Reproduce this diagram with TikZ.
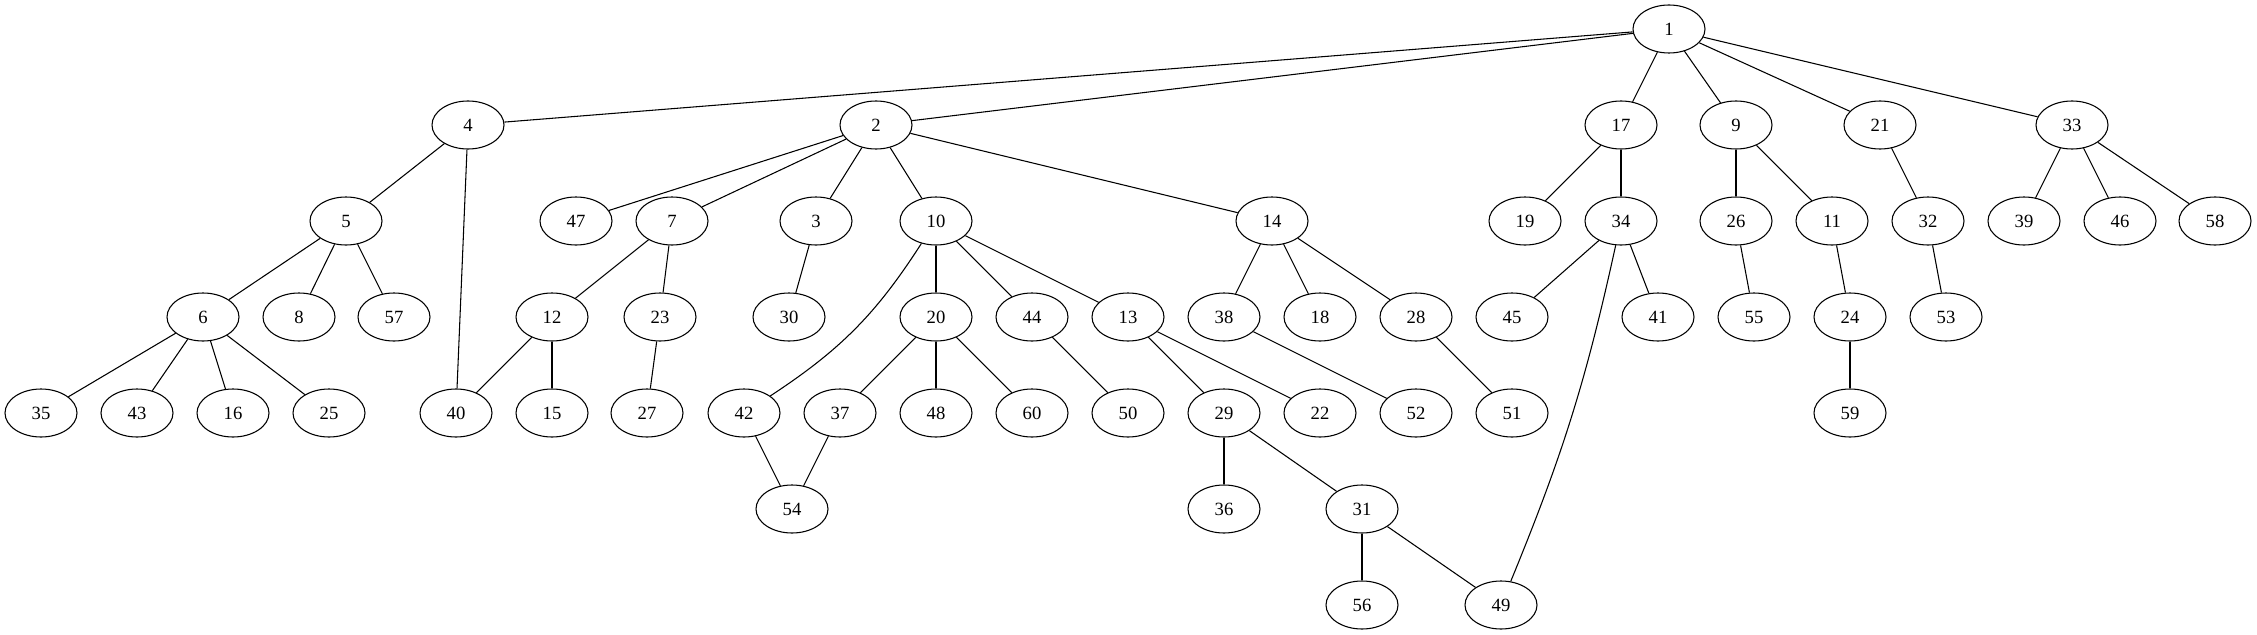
\documentclass[tikz,border=0pt]{standalone}
\usepackage{fontspec}
\setmainfont{Liberation Serif}
\usetikzlibrary{shapes.geometric}

\begin{document}
\begin{tikzpicture}[x=0.75pt, y=-0.75pt,
    vertex/.style={ellipse, draw, line width=0.8pt, minimum width=54pt,
      minimum height=36pt, inner sep=0pt, font=\fontsize{14}{16}\selectfont}]
  \useasboundingbox (0,0) rectangle (2257,635);

  % level 0 and 1
  \node (n1) [vertex] at (1669,29) {1};
  \node (n4) [vertex] at (468,125) {4};
  \node (n2) [vertex] at (876,125) {2};
  \node (n17) [vertex] at (1621,125) {17};
  \node (n9) [vertex] at (1736,125) {9};
  \node (n21) [vertex] at (1880,125) {21};
  \node (n33) [vertex] at (2072,125) {33};

  % level 2
  \node (n5) [vertex] at (346,221) {5};
  \node (n47) [vertex] at (576,221) {47};
  \node (n7) [vertex] at (672,221) {7};
  \node (n3) [vertex] at (816,221) {3};
  \node (n10) [vertex] at (936,221) {10};
  \node (n14) [vertex] at (1272,221) {14};
  \node (n19) [vertex] at (1525,221) {19};
  \node (n34) [vertex] at (1621,221) {34};
  \node (n26) [vertex] at (1736,221) {26};
  \node (n11) [vertex] at (1832,221) {11};
  \node (n32) [vertex] at (1928,221) {32};
  \node (n39) [vertex] at (2024,221) {39};
  \node (n46) [vertex] at (2120,221) {46};
  \node (n58) [vertex] at (2215,221) {58};

  % level 3
  \node (n6) [vertex] at (203,317) {6};
  \node (n8) [vertex] at (299,317) {8};
  \node (n57) [vertex] at (394,317) {57};
  \node (n12) [vertex] at (552,317) {12};
  \node (n23) [vertex] at (660,317) {23};
  \node (n30) [vertex] at (789,317) {30};
  \node (n20) [vertex] at (936,317) {20};
  \node (n44) [vertex] at (1032,317) {44};
  \node (n13) [vertex] at (1128,317) {13};
  \node (n38) [vertex] at (1224,317) {38};
  \node (n18) [vertex] at (1320,317) {18};
  \node (n28) [vertex] at (1416,317) {28};
  \node (n45) [vertex] at (1512,317) {45};
  \node (n41) [vertex] at (1658,317) {41};
  \node (n55) [vertex] at (1754,317) {55};
  \node (n24) [vertex] at (1850,317) {24};
  \node (n53) [vertex] at (1946,317) {53};

  % level 4
  \node (n35) [vertex] at (41,413) {35};
  \node (n43) [vertex] at (137,413) {43};
  \node (n16) [vertex] at (233,413) {16};
  \node (n25) [vertex] at (329,413) {25};
  \node (n40) [vertex] at (456,413) {40};
  \node (n15) [vertex] at (552,413) {15};
  \node (n27) [vertex] at (647,413) {27};
  \node (n42) [vertex] at (744,413) {42};
  \node (n37) [vertex] at (840,413) {37};
  \node (n48) [vertex] at (936,413) {48};
  \node (n60) [vertex] at (1032,413) {60};
  \node (n50) [vertex] at (1128,413) {50};
  \node (n29) [vertex] at (1224,413) {29};
  \node (n22) [vertex] at (1320,413) {22};
  \node (n52) [vertex] at (1416,413) {52};
  \node (n51) [vertex] at (1512,413) {51};
  \node (n59) [vertex] at (1850,413) {59};

  % level 5 and 6
  \node (n54) [vertex] at (792,509) {54};
  \node (n36) [vertex] at (1224,509) {36};
  \node (n31) [vertex] at (1362,509) {31};
  \node (n56) [vertex] at (1362,605) {56};
  \node (n49) [vertex] at (1501,605) {49};

  \path [line width=0.8pt]
  (n1) edge (n4)
  (n1) edge (n2)
  (n1) edge (n17)
  (n1) edge (n9)
  (n1) edge (n21)
  (n1) edge (n33)
  (n4) edge (n5)
  (n4) edge (n40)
  (n2) edge (n47)
  (n2) edge (n7)
  (n2) edge (n3)
  (n2) edge (n10)
  (n2) edge (n14)
  (n5) edge (n6)
  (n5) edge (n8)
  (n5) edge (n57)
  (n6) edge (n35)
  (n6) edge (n43)
  (n6) edge (n16)
  (n6) edge (n25)
  (n7) edge (n12)
  (n7) edge (n23)
  (n12) edge (n40)
  (n12) edge (n15)
  (n23) edge (n27)
  (n3) edge (n30)
  (n10) edge [bend left=12] (n42)
  (n10) edge (n20)
  (n10) edge (n44)
  (n10) edge (n13)
  (n20) edge (n37)
  (n20) edge (n48)
  (n20) edge (n60)
  (n44) edge (n50)
  (n13) edge (n29)
  (n13) edge (n22)
  (n42) edge (n54)
  (n37) edge (n54)
  (n29) edge (n36)
  (n29) edge (n31)
  (n31) edge (n56)
  (n31) edge (n49)
  (n14) edge (n38)
  (n14) edge (n18)
  (n14) edge (n28)
  (n38) edge (n52)
  (n28) edge (n51)
  (n17) edge (n19)
  (n17) edge (n34)
  (n34) edge (n45)
  (n34) edge (n41)
  (n34) edge [bend left=5] (n49)
  (n9) edge (n26)
  (n9) edge (n11)
  (n26) edge (n55)
  (n11) edge (n24)
  (n24) edge (n59)
  (n21) edge (n32)
  (n32) edge (n53)
  (n33) edge (n39)
  (n33) edge (n46)
  (n33) edge (n58)
  ;
\end{tikzpicture}
\end{document}
